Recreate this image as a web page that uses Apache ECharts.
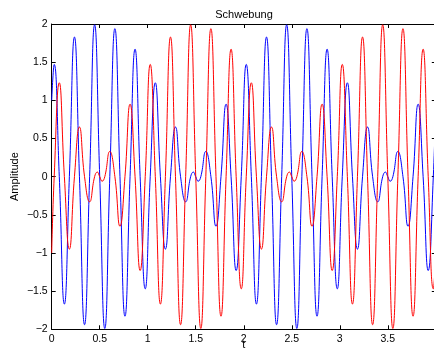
<!DOCTYPE html>
<html>
<head>
<meta charset="utf-8">
<script src="https://cdn.jsdelivr.net/npm/echarts@6/dist/echarts.min.js"></script>
<style>
  html, body { margin: 0; padding: 0; background: #fff; }
  #chart { width: 434px; height: 356px; }
</style>
</head>
<body>
<div id="chart"></div>
<script>
const blueT = [0, 0.026, 0.079, 0.132, 0.184, 0.237, 0.289, 0.342, 0.395, 0.447, 0.5, 0.553, 0.605, 0.658, 0.711,
    0.763, 0.816, 0.868, 0.921, 0.974, 1.026, 1.079, 1.132, 1.184, 1.237, 1.289, 1.342, 1.395, 1.447, 1.475, 1.5,
    1.525, 1.553, 1.605, 1.658, 1.711, 1.763, 1.816, 1.868, 1.921, 1.974, 2.026, 2.079, 2.132, 2.184, 2.237, 2.289,
    2.342, 2.395, 2.447, 2.5, 2.553, 2.605, 2.658, 2.711, 2.763, 2.816, 2.868, 2.921, 2.974, 3.026, 3.079, 3.132,
    3.184, 3.237, 3.289, 3.342, 3.395, 3.447, 3.475, 3.5, 3.525, 3.553, 3.605, 3.658, 3.711, 3.763, 3.816, 3.868,
    3.921, 3.974, 4];
const blueY = [1.0, 1.47, 0, -1.67, 0, 1.83, 0, -1.94, 0, 1.99, 0, -1.99, 0, 1.94, 0,
    -1.83, 0, 1.67, 0, -1.47, 0, 1.23, 0, -0.95, 0, 0.65, 0, -0.33, 0, 0.06, 0,
    -0.06, 0, 0.33, 0, -0.65, 0, 0.95, 0, -1.23, 0, 1.47, 0, -1.67, 0, 1.83, 0,
    -1.94, 0, 1.99, 0, -1.99, 0, 1.94, 0, -1.83, 0, 1.67, 0, -1.47, 0, 1.23, 0,
    -0.95, 0, 0.65, 0, -0.33, 0, 0.06, 0, -0.06, 0, 0.33, 0, -0.65, 0, 0.95, 0,
    -1.23, 0, 1.0];

const redT = [0, 0.026, 0.079, 0.132, 0.184, 0.237, 0.289, 0.342, 0.395, 0.447, 0.475, 0.5, 0.525, 0.553, 0.605,
    0.658, 0.711, 0.763, 0.816, 0.868, 0.921, 0.974, 1.026, 1.079, 1.132, 1.184, 1.237, 1.289, 1.342, 1.395, 1.447,
    1.5, 1.553, 1.605, 1.658, 1.711, 1.763, 1.816, 1.868, 1.921, 1.974, 2.026, 2.079, 2.132, 2.184, 2.237, 2.289,
    2.342, 2.395, 2.447, 2.475, 2.5, 2.525, 2.553, 2.605, 2.658, 2.711, 2.763, 2.816, 2.868, 2.921, 2.974, 3.026,
    3.079, 3.132, 3.184, 3.237, 3.289, 3.342, 3.395, 3.447, 3.5, 3.553, 3.605, 3.658, 3.711, 3.763, 3.816, 3.868,
    3.921, 3.974, 4];
const redY = [-1.0, 0, 1.23, 0, -0.95, 0, 0.65, 0, -0.33, 0, 0.06, 0, -0.06, 0, 0.33,
    0, -0.65, 0, 0.95, 0, -1.23, 0, 1.47, 0, -1.67, 0, 1.83, 0, -1.94, 0, 1.99,
    0, -1.99, 0, 1.94, 0, -1.83, 0, 1.67, 0, -1.47, 0, 1.23, 0, -0.95, 0, 0.65,
    0, -0.33, 0, 0.06, 0, -0.06, 0, 0.33, 0, -0.65, 0, 0.95, 0, -1.23, 0, 1.47,
    0, -1.67, 0, 1.83, 0, -1.94, 0, 1.99, 0, -1.99, 0, 1.94, 0, -1.83, 0, 1.67,
    0, -1.47, -1.0];

const xTicks = ['0', '0.5', '1', '1.5', '2', '2.5', '3', '3.5'];
const yTicks = ['\u22122', '\u22121.5', '\u22121', '\u22120.5', '0', '0.5', '1', '1.5', '2'];

const FONT = "'Liberation Sans', Arial, sans-serif";

function zip(xs, ys) {
    return xs.map((x, i) => [x, ys[i]]);
}

// Achse im Matlab-Stil: schwarze Linie, Ticks nach innen
function boxAxis(pos, showLabel, extra) {
    return Object.assign({
        type: 'value',
        position: pos,
        axisLine: { show: true, onZero: false, lineStyle: { color: '#000', width: 1 } },
        axisTick: { show: true, inside: true, length: 4, lineStyle: { color: '#000', width: 1 } },
        splitLine: { show: false },
        axisLabel: { show: showLabel, color: '#000', fontFamily: FONT, fontSize: 10.5, margin: 4 },
    }, extra);
}

const xRange = { min: 0, max: 4, interval: 0.5 };
const yRange = { min: -2, max: 2, interval: 0.5 };

const chart = echarts.init(document.getElementById('chart'), null, { renderer: 'canvas' });

chart.setOption({
    animation: false,
    backgroundColor: '#fff',
    title: {
        text: 'Schwebung',
        left: 244,
        top: 9,
        padding: 0,
        textAlign: 'center',
        textStyle: { fontFamily: FONT, fontSize: 11, fontWeight: 'normal', color: '#000' }
    },
    grid: { left: 51.7, right: -1.8, top: 24, bottom: 26.7, containLabel: false, outerBoundsMode: 'none' },
    xAxis: [
        boxAxis('bottom', true, Object.assign({
            name: 't',
            nameLocation: 'middle',
            nameGap: 10.5,
            nameMoveOverlap: false,
            nameTextStyle: { fontFamily: FONT, fontSize: 11, color: '#000' },
        }, xRange, {
            axisLabel: {
                show: true, color: '#000', fontFamily: FONT, fontSize: 10.5, margin: 4,
                formatter: v => xTicks[Math.round(v * 2)] || ''
            }
        })),
        boxAxis('top', false, Object.assign({}, xRange))
    ],
    yAxis: [
        boxAxis('left', true, Object.assign({
            name: 'Amplitude',
            nameLocation: 'middle',
            nameGap: 31,
            nameMoveOverlap: false,
            nameTextStyle: { fontFamily: FONT, fontSize: 11, color: '#000' },
        }, yRange, {
            axisLabel: {
                show: true, color: '#000', fontFamily: FONT, fontSize: 10.5, margin: 4,
                formatter: v => yTicks[Math.round((v + 2) * 2)]
            }
        })),
        boxAxis('right', false, Object.assign({}, yRange))
    ],
    series: [
        {
            name: 'blau',
            type: 'line',
            data: zip(blueT, blueY),
            smooth: 0.5,
            showSymbol: false,
            lineStyle: { color: '#0000ff', width: 1 },
            itemStyle: { color: '#0000ff' }
        },
        {
            name: 'rot',
            type: 'line',
            data: zip(redT, redY),
            smooth: 0.5,
            showSymbol: false,
            lineStyle: { color: '#ff0000', width: 1 },
            itemStyle: { color: '#ff0000' }
        }
    ]
});
</script>
</body>
</html>
